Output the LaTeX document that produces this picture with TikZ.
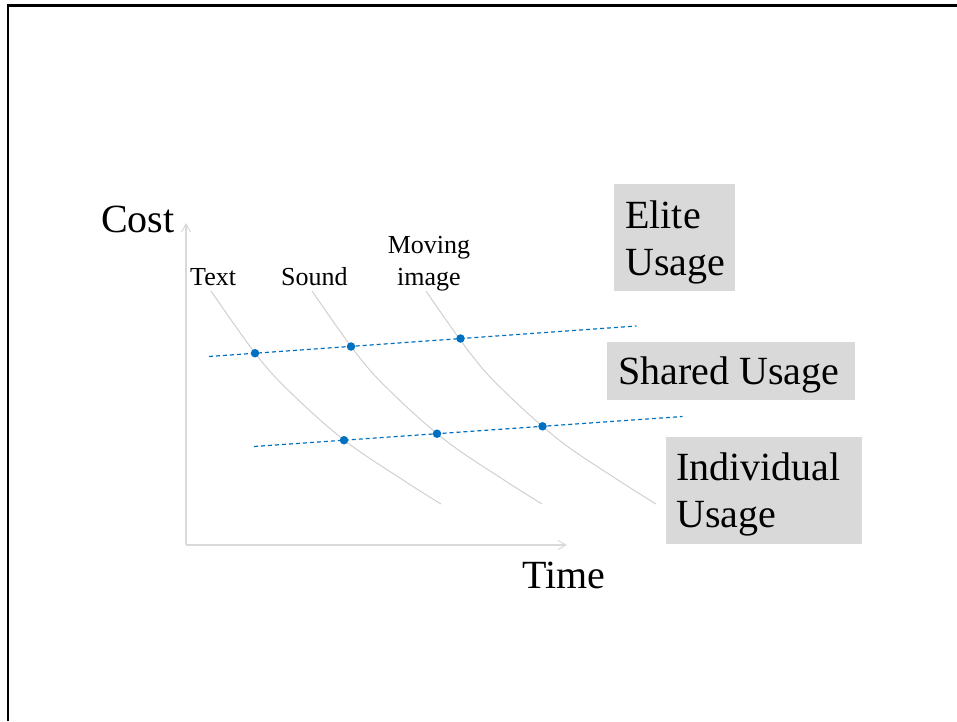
\documentclass[tikz,border=0pt]{standalone}
\usepackage{fontspec}
\setmainfont{Liberation Serif}
\usetikzlibrary{arrows.meta}
\definecolor{boxgray}{HTML}{D9D9D9}
\definecolor{axisgray}{HTML}{D9D9D9}
\definecolor{curvegray}{HTML}{D0D0D0}
\definecolor{dotblue}{HTML}{0070C0}
\begin{document}
\begin{tikzpicture}[x=1pt,y=-1pt,
  bigtext/.style={font=\fontsize{40}{47}\selectfont, inner sep=0pt, anchor=base west, align=left},
  smalltext/.style={font=\fontsize{26}{32}\selectfont, inner sep=0pt},
  axisline/.style={draw=axisgray, line width=1.5pt, -{Straight Barb[length=8pt,width=9pt,line width=1pt]}},
  curveline/.style={draw=curvegray, line width=1pt},
  usagebox/.style={fill=boxgray, draw=none},
  dotnode/.style={circle, fill=dotblue, inner sep=0pt, minimum size=8.5pt},
  dashline/.style={draw=dotblue, line width=1.2pt, dash pattern=on 4pt off 3pt},
  frameline/.style={draw=black, line width=2.3pt}
]
\useasboundingbox (0,0) rectangle (957,721);
% slide frame
\draw[frameline] (8.3,721) -- (8.3,5.4) -- (957,5.4);

% axes
\coordinate (origin) at (186,545);
\coordinate (ytip) at (186,223);
\coordinate (xtip) at (567,545);
\draw[axisline] (origin) -- (ytip);
\draw[axisline] (origin) -- (xtip);
\node[bigtext] (cost) at (101,232) {Cost};
\node[bigtext] (time) at (522,588) {Time};

% curves
\foreach \dx in {0,101,215}{
  \draw[curveline, shift={(\dx,0)}] plot[smooth, tension=0.6] coordinates
    {(211,291) (255,353) (288,390) (344,440) (403,480) (441,504)};
}

% curve labels (multi-line nodes: base = last line)
\node[smalltext, anchor=base west] (textlbl) at (190,285) {Text};
\node[smalltext, anchor=base west] (soundlbl) at (281,285) {Sound};
\node[smalltext, anchor=base, align=center] (movinglbl) at (429,285) {Moving\\image};

% dashed usage lines
\coordinate (ta) at (209,356.5);
\coordinate (tb) at (636.5,326);
\coordinate (ba) at (254,446.5);
\coordinate (bb) at (682.5,416.5);
\draw[dashline] (ta) -- (tb);
\draw[dashline] (ba) -- (bb);

% dots
\node[dotnode] (t1) at (255,353.2) {};
\node[dotnode] (t2) at (351,346.5) {};
\node[dotnode] (t3) at (460.5,338.5) {};
\node[dotnode] (b1) at (344,440.2) {};
\node[dotnode] (b2) at (437,433.7) {};
\node[dotnode] (b3) at (542.5,426.3) {};

% usage boxes
\path[usagebox] (614,184) rectangle (735,291);
\path[usagebox] (607,342) rectangle (855,400);
\path[usagebox] (666,437) rectangle (862,544);
\node[bigtext] (elite) at (625,275.5) {Elite\\Usage};
\node[bigtext] (shared) at (618,384) {Shared Usage};
\node[bigtext] (indiv) at (676,527) {Individual\\Usage};
\end{tikzpicture}
\end{document}
